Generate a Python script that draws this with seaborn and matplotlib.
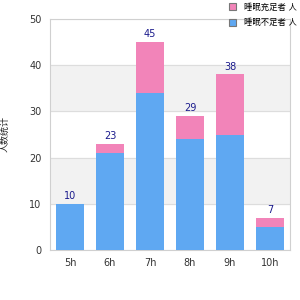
import seaborn as sns
import matplotlib.pyplot as plt

hours = ["5h", "6h", "7h", "8h", "9h", "10h"]
short_sleep = [10, 21, 34, 24, 25, 5]
extra_sleep = [0, 2, 11, 5, 13, 2]
totals = [a + b for a, b in zip(short_sleep, extra_sleep)]
legend_labels = ["睡眠充足者 人", "睡眠不足者 人"]
y_title = "人数统计"

sns.set_style("white")
plt.rcParams["font.family"] = ["DejaVu Sans", "Noto Sans CJK SC"]

fig = plt.figure(figsize=(3, 3), dpi=100)
ax = fig.add_axes([50 / 300, 50 / 300, 240 / 300, 231 / 300])

for lo, hi in [(10, 20), (30, 40)]:
    ax.axhspan(lo, hi, color="#f2f2f2", zorder=0)

sns.barplot(x=hours, y=totals, color="#f284b9", width=0.72, saturation=1,
            linewidth=0, ax=ax, zorder=2, label=legend_labels[0])
sns.barplot(x=hours, y=short_sleep, color="#5fa8f2", width=0.72, saturation=1,
            linewidth=0, ax=ax, zorder=3, label=legend_labels[1])
ax.bar_label(ax.containers[0], labels=[str(t) for t in totals], padding=2,
             fontsize=7, color="#1a1a8c")

ax.set_ylim(0, 50)
ax.set_yticks(range(0, 51, 10))
ax.grid(axis="y", color="#dddddd", linewidth=0.8, zorder=1)
ax.set_axisbelow(True)
for s in ax.spines.values():
    s.set_color("#d0d0d0")
ax.tick_params(axis="both", labelsize=7, colors="#333333", length=0, pad=6)
ax.set_ylabel(y_title, fontsize=6.5, labelpad=14)
ax.set_xlabel(None)

leg = ax.legend(loc="upper left", bbox_to_anchor=(0.73, 1.085), frameon=False,
                fontsize=6, handlelength=0.9, handleheight=0.9, handletextpad=1.0,
                labelspacing=0.8, borderaxespad=0)
for h in leg.legend_handles:
    h.set_edgecolor("#777777")
    h.set_linewidth(0.8)
for t in leg.get_texts():
    t.set_color("black")

fig.savefig("out.png", dpi=100)
